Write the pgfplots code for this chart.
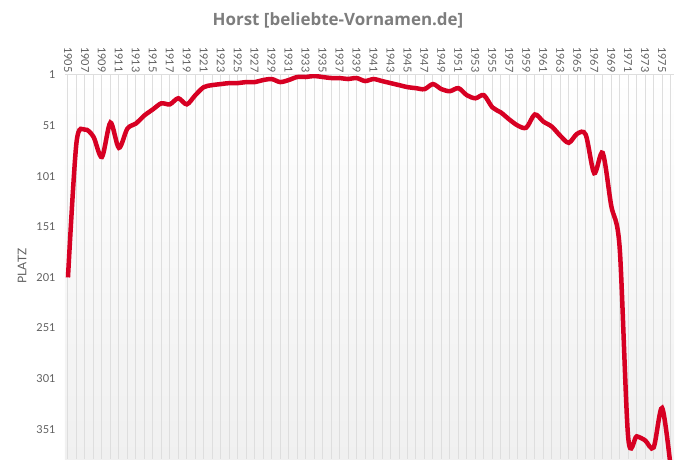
\documentclass[border=0pt]{standalone}
\usepackage{fontspec}
\setmainfont{Lato}
\newfontfamily\titlefont{Open Sans}
\usepackage{pgfplots}
\pgfplotsset{compat=1.18}
\definecolor{linered}{RGB}{215,0,35}
\definecolor{gridgray}{RGB}{222,222,222}
\definecolor{labelgray}{RGB}{96,96,96}
\definecolor{titlegray}{RGB}{125,125,125}
\definecolor{bggray}{RGB}{240,240,240}
\begin{document}
\begin{tikzpicture}[x=1bp,y=1bp]
\path[use as bounding box] (-65,-15) rectangle (624,459);
\begin{axis}[
  at={(0,0)}, anchor=south west,
  scale only axis, width=609bp, height=384bp,
  xmin=1904.65, xmax=1976.4,
  ymin=1, ymax=380.4, y dir=reverse,
  axis line style={draw=none},
  axis background/.style={shade, top color=white, bottom color=bggray},
  xtick={1905,1907,...,1975},
  minor xtick={1906,1908,...,1976},
  xmajorgrids, xminorgrids,
  major grid style={gridgray, line width=1bp},
  minor grid style={gridgray, line width=1bp},
  ytick={1,51,...,351},
  extra y ticks={1},
  extra y tick labels={},
  extra y tick style={grid=major, major grid style={gridgray, line width=1bp}},
  major tick length=0, minor tick length=0,
  xticklabel pos=upper,
  /pgf/number format/1000 sep={},
  /pgf/number format/assume math mode=true,
  xticklabel style={rotate=-90, anchor=east, font=\fontsize{11}{13}\selectfont, text=labelgray, xshift=1bp},
  yticklabel style={font=\fontsize{11}{13}\selectfont, text=labelgray, xshift=-6bp},
  clip=true,
]
\addplot[linered, line width=4.5bp, smooth, tension=0.5] table {
1905 201
1906 68
1907 55
1908 62
1909 82
1910 48
1911 73
1912 54
1913 49
1914 41
1915 35
1916 29
1917 30
1918 24
1919 30
1920 21
1921 13
1922 11
1923 10
1924 9
1925 9
1926 8
1927 8
1928 6
1929 5
1930 8
1931 6
1932 3
1933 3
1934 2
1935 3
1936 4
1937 4
1938 5
1939 4
1940 7
1941 5
1942 7
1943 9
1944 11
1945 13
1946 14
1947 15
1948 10
1949 15
1950 17
1951 14
1952 21
1953 24
1954 21
1955 33
1956 38
1957 45
1958 51
1959 53
1960 40
1961 47
1962 52
1963 61
1964 68
1965 59
1966 60
1967 98
1968 78
1969 130
1970 172
1971 359
1972 358
1973 362
1974 369
1975 330
1976 388
};
\end{axis}
\node[font=\titlefont\bfseries\fontsize{17}{20}\selectfont, text=titlegray] at (273,439) {Horst [beliebte-Vornamen.de]};
\node[rotate=90, font=\fontsize{12}{14}\selectfont, text=labelgray] at (-43,193) {PLATZ};
\end{tikzpicture}
\end{document}
